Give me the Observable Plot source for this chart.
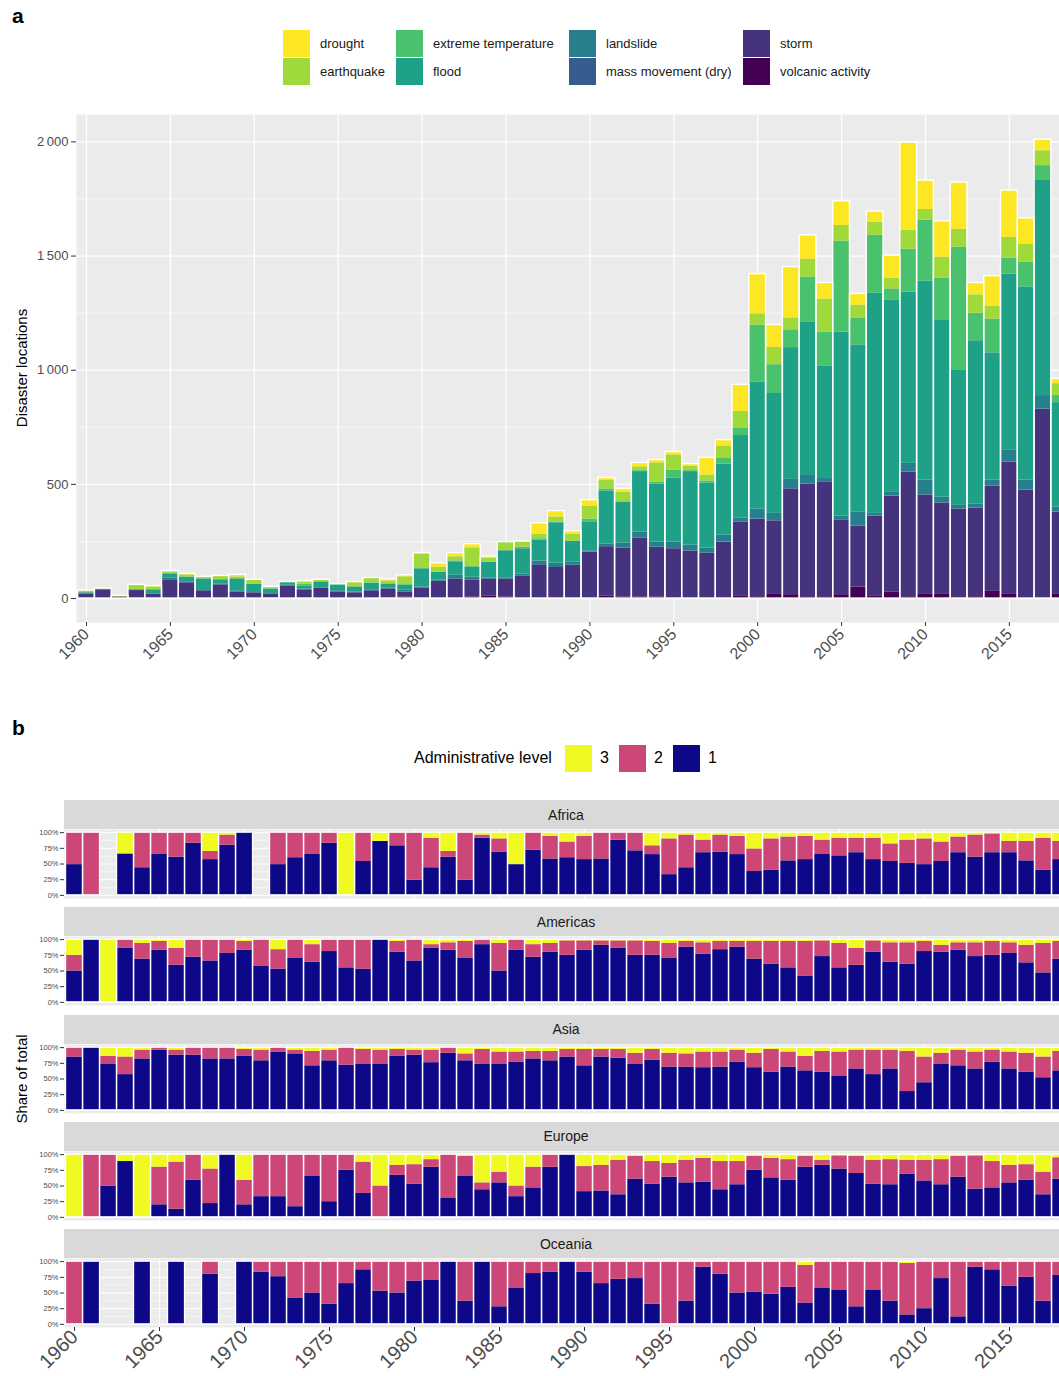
<!DOCTYPE html>
<html><head><meta charset="utf-8">
<script src="https://cdn.jsdelivr.net/npm/d3@7"></script>
<script src="https://cdn.jsdelivr.net/npm/@observablehq/plot@0.6"></script>
<style>
html,body{margin:0;padding:0;background:#fff;overflow:hidden;}
#root{position:relative;width:1059px;height:1376px;overflow:hidden;font-family:"Liberation Sans",Arial,sans-serif;color:#000;}
.abs{position:absolute;white-space:nowrap;}
svg{overflow:visible;}
</style></head><body><div id="root"></div>
<script>
// ---------- Panel a data (1960–2018) ----------
const years = d3.range(1960, 2019);
const typesLegend = ["drought","earthquake","extreme temperature","flood","landslide","mass movement (dry)","storm","volcanic activity"];
const typeColors = ["#FDE725","#9FDA3A","#4AC16D","#1FA187","#277F8E","#365C8D","#46337E","#440154"];
const typesBottomUp = ["volcanic activity","storm","mass movement (dry)","landslide","flood","extreme temperature","earthquake","drought"];

const volcanic = [3,0,0,3,3,0,3,0,3,3, 0,2,0,2,0,0,0,0,2,7,
  3,3,3,7,10,6,3,3,3,3, 3,10,7,7,7,3,3,3,3,12,
  8,21,17,8,8,17,50,12,29,8, 21,21,3,8,34,21,0,3,21];
const storm = [16,38,7,32,17,82,66,34,57,26, 25,18,55,36,44,29,25,34,40,21,
  42,73,83,73,76,80,96,145,133,143, 200,217,214,258,218,215,205,196,244,323,
  339,319,463,492,503,327,267,349,419,544, 432,397,389,388,457,576,474,825,357];
const massMovement = [0,0,0,0,0,0,0,0,0,0, 0,0,0,0,0,0,0,0,0,0,
  0,0,0,0,0,0,0,0,0,0, 1,0,1,1,0,1,1,0,1,1,
  2,1,2,1,1,2,2,1,1,2, 2,1,1,1,1,2,1,2,1];
const landslide = [4,3,0,3,0,7,2,1,3,5, 1,2,3,4,1,5,3,2,3,10,
  6,4,16,14,3,5,8,16,19,13, 5,11,21,25,22,28,25,22,30,16,
  43,32,40,38,14,15,59,11,16,38, 64,25,15,16,27,50,44,59,22];
const flood = [3,1,0,1,18,19,21,51,19,52, 37,20,11,13,28,26,23,31,19,22,
  79,35,59,45,70,118,111,92,177,92, 127,233,178,265,254,281,322,285,311,362,
  555,525,577,673,493,806,733,964,843,750, 872,777,594,716,557,772,846,945,457];
const extremeTemp = [0,0,0,0,1,3,3,0,1,1, 1,0,1,8,0,1,0,2,0,0,
  4,0,4,0,0,4,7,6,3,0, 12,9,3,4,9,35,4,9,27,31,
  251,126,78,196,148,398,118,254,48,188, 266,182,537,121,148,69,108,62,31];
const earthquake = [8,2,5,21,12,6,9,9,16,8, 18,9,3,8,9,2,18,21,13,35,
  60,22,18,83,18,34,22,20,22,31, 57,39,42,17,84,66,20,26,52,74,
  49,76,52,78,144,69,56,57,47,83, 47,92,78,80,57,92,78,65,52];
const drought = [1,0,0,0,4,4,4,0,0,9, 0,0,0,6,0,0,4,0,8,7,
  6,18,16,16,7,0,4,48,26,13, 26,9,14,17,13,13,9,75,26,117,
  174,98,223,105,71,106,49,47,99,384, 127,157,205,52,131,205,114,49,21];

const yTicksA = [0,500,1000,1500,2000];
const yMinorA = [250,750,1250,1750];
const xTicks = [1960,1965,1970,1975,1980,1985,1990,1995,2000,2005,2010,2015];

// ---------- Panel b data (share %, 1960–2018), null = no data ----------
const levels = ["3","2","1"];
const levelColors = ["#F0F921","#CC4678","#0D0887"];
const regions = ["Africa","Americas","Asia","Europe","Oceania"];

const africaL1 = [49,0,null,66,44,66,61,83,57,80, 100,null,49,60,66,83,0,54,86,79,
  24,44,61,24,91,69,49,72,58,60, 57,58,88,71,65,33,44,68,69,65,
  38,40,55,57,66,63,68,57,54,51, 49,54,68,61,68,68,55,40,57];
const africaL2 = [51,100,null,0,56,34,39,17,13,16, 0,null,51,40,34,17,0,46,0,21,
  76,47,9,76,5,21,0,28,36,25, 37,42,12,29,14,57,52,20,27,29,
  36,50,38,37,22,28,23,34,28,37, 41,31,25,35,30,18,31,51,29];
const africaL3 = [0,0,null,34,0,0,0,0,30,4, 0,null,0,0,0,0,100,0,14,0,
  0,9,30,0,4,10,51,0,6,15, 6,0,0,0,21,10,4,12,4,6,
  26,10,7,6,12,9,9,9,18,12, 10,15,7,4,2,14,14,9,14];

const americasL1 = [50,100,0,86,69,83,59,72,66,78, 83,58,53,70,64,81,55,53,100,80,
  66,86,83,70,92,50,83,72,80,75, 83,91,86,75,75,70,88,77,84,88,
  69,61,55,42,73,55,59,80,64,61, 81,80,83,73,75,78,63,47,69];
const americasL2 = [25,0,0,14,25,14,27,28,34,22, 14,42,31,30,28,19,45,47,0,17,
  34,6,12,27,8,44,17,20,14,23, 15,7,12,23,22,24,9,18,13,9,
  28,36,42,55,25,39,27,18,31,34, 16,11,12,22,22,17,28,47,28];
const americasL3 = [25,0,100,0,6,3,14,0,0,0, 3,0,16,0,8,0,0,0,0,3,
  0,8,5,3,0,6,0,8,6,2, 2,2,2,2,3,6,3,5,3,3,
  3,3,3,3,2,6,14,2,5,5, 3,9,5,5,3,5,9,6,3];

const asiaL1 = [85,100,74,57,82,96,88,88,82,82, 86,79,93,90,71,79,72,74,74,86,
  88,76,91,79,74,74,77,82,79,85, 71,85,83,74,80,69,69,68,69,77,
  68,61,69,63,61,54,66,57,66,30, 44,74,71,66,77,66,61,52,63];
const asiaL2 = [15,0,12,28,14,4,8,12,18,18, 11,17,7,6,23,17,28,23,22,11,
  8,20,9,11,23,19,16,12,15,12, 26,12,14,17,17,22,21,25,24,19,
  23,36,24,23,33,39,30,39,30,64, 41,17,25,27,19,27,30,33,31];
const asiaL3 = [0,0,14,15,4,0,4,0,0,0, 3,4,0,4,6,4,0,3,4,3,
  4,4,0,10,3,7,7,6,6,3, 3,3,3,9,3,9,10,7,7,4,
  9,3,7,14,6,7,4,4,4,6, 15,9,4,7,4,7,9,15,6];

const europeL1 = [0,0,50,89,0,20,13,59,22,100, 20,33,33,17,66,25,75,38,0,67,
  53,80,31,66,44,55,33,47,80,100, 41,42,36,61,53,64,55,56,44,52,
  75,63,59,80,83,77,70,53,52,69, 58,52,64,45,47,55,59,36,61];
const europeL2 = [0,100,50,0,0,60,75,41,55,0, 39,67,67,83,34,75,25,50,50,16,
  31,12,69,31,11,17,17,33,20,0, 40,41,55,36,36,22,36,38,45,37,
  22,31,33,17,8,21,27,38,40,22, 33,40,33,53,42,28,25,36,34];
const europeL3 = [100,0,0,11,100,20,12,0,23,0, 41,0,0,0,0,0,0,12,50,17,
  16,8,0,3,45,28,50,20,0,0, 19,17,9,3,11,14,9,6,11,11,
  3,6,8,3,9,2,3,9,8,9, 9,8,3,2,11,17,16,28,5];

const oceaniaL1 = [0,100,null,null,100,null,100,null,80,null, 100,83,76,42,50,32,65,87,53,50,
  69,70,100,37,100,28,58,81,83,100, 83,65,72,73,32,0,37,91,80,50,
  51,48,59,34,58,54,28,54,37,15, 25,73,12,91,87,61,75,37,78];
const oceaniaL2 = [100,0,null,null,0,null,0,null,20,null, 0,17,24,58,50,68,35,13,47,50,
  31,30,0,63,0,72,42,19,17,0, 17,35,28,27,68,100,63,9,20,50,
  49,52,41,60,42,46,72,46,63,82, 75,27,88,9,13,39,25,63,22];
const oceaniaL3 = [0,0,null,null,0,null,0,null,0,null, 0,0,0,0,0,0,0,0,0,0,
  0,0,0,0,0,0,0,0,0,0, 0,0,0,0,0,0,0,0,0,0,
  0,0,0,6,0,0,0,0,0,3, 0,0,0,0,0,0,0,0,0];

const yTicksB = [0,25,50,75,100];
const yMinorB = [12.5,37.5,62.5,87.5];

// ---------- helpers ----------
const root = document.getElementById("root");
function addText(txt, css) {
  const d = document.createElement("div");
  d.className = "abs";
  d.textContent = txt;
  Object.assign(d.style, css);
  root.appendChild(d);
  return d;
}
function addBox(css) {
  const d = document.createElement("div");
  d.className = "abs";
  Object.assign(d.style, css);
  root.appendChild(d);
  return d;
}
function place(node, left, top) {
  const w = document.createElement("div");
  w.className = "abs";
  w.style.left = left + "px"; w.style.top = top + "px";
  w.appendChild(node);
  root.appendChild(w);
}
const fontFam = '"Liberation Sans", Arial, sans-serif';

// ---------- Panel a ----------
addText("a", {left:"12px", top:"4px", fontSize:"21px", fontWeight:"bold"});
const legCols = [283, 396, 569, 743];
const legRows = [30, 58];
typesLegend.forEach((t, i) => {
  const cx = legCols[Math.floor(i / 2)], ry = legRows[i % 2];
  addBox({left: cx + "px", top: ry + "px", width: "27px", height: "27px", background: typeColors[i]});
  addText(t, {left: (cx + 37) + "px", top: (ry + 5) + "px", fontSize: "13px", lineHeight: "17px", color: "#1a1a1a"});
});
addText("Disaster locations", {left:"21px", top:"368px", fontSize:"15px", transform:"translate(-50%,-50%) rotate(-90deg)", color:"#000"});

const rowsA = years.map((y, i) => ({
  year: y,
  "volcanic activity": volcanic[i], "storm": storm[i], "mass movement (dry)": massMovement[i],
  "landslide": landslide[i], "flood": flood[i], "extreme temperature": extremeTemp[i],
  "earthquake": earthquake[i], "drought": drought[i]
}));
const stackA = [];
d3.stack().keys(typesBottomUp)(rowsA).forEach(s => {
  s.forEach(p => { if (p[1] > p[0]) stackA.push({type: s.key, year: p.data.year, y1: p[0], y2: p[1]}); });
});
const totalsA = rowsA.map(r => ({year: r.year, total: d3.sum(typesBottomUp, k => r[k])}));

const fmtA = d => d === 0 ? "0" : d3.format(",")(d).replace(",", "\u2009");

const plotA = Plot.plot({
  width: 1059, height: 580,
  marginLeft: 76, marginRight: 0, marginTop: 14, marginBottom: 58,
  x: {domain: [1959.404, 2017.986], range: [76, 1059]},
  y: {domain: [-104.9, 2120], range: [522, 14]},
  color: {domain: typesLegend, range: typeColors},
  style: {fontFamily: fontFam, color: "#4d4d4d", background: "transparent"},
  marks: [
    Plot.frame({fill: "#ebebeb", stroke: null}),
    Plot.ruleY(yMinorA, {stroke: "#fff", strokeWidth: 0.6}),
    Plot.ruleY(yTicksA, {stroke: "#fff", strokeWidth: 1.2}),
    Plot.ruleX(xTicks, {stroke: "#fff", strokeWidth: 1.2}),
    Plot.rect(stackA, {x1: d => d.year - 0.5, x2: d => d.year + 0.5, y1: "y1", y2: "y2", fill: "type"}),
    Plot.rect(totalsA, {x1: d => d.year - 0.5, x2: d => d.year + 0.5, y1: 0, y2: "total", fill: "none", stroke: "#fff", strokeWidth: 1.4}),
    Plot.axisY({ticks: yTicksA, tickFormat: fmtA, fontSize: 13, tickSize: 5, tickPadding: 3, label: null, stroke: "#333"}),
    Plot.axisX({ticks: xTicks, tickFormat: d => String(d), tickRotate: -45, fontSize: 16, tickSize: 4, tickPadding: 5, label: null, stroke: "#333"})
  ]
});
place(plotA, 0, 100);

// ---------- Panel b ----------
addText("b", {left:"12px", top:"716px", fontSize:"21px", fontWeight:"bold"});
addText("Administrative level", {left:"414px", top:"748px", fontSize:"16px", lineHeight:"20px", color:"#000"});
const legBx = [565, 619, 673];
levels.forEach((lv, i) => {
  addBox({left: legBx[i] + "px", top: "745px", width: "27px", height: "27px", background: levelColors[i]});
  addText(lv, {left: (legBx[i] + 35) + "px", top: "748px", fontSize: "16px", lineHeight: "20px", color: "#000"});
});
addText("Share of total", {left:"21px", top:"1079px", fontSize:"15px", transform:"translate(-50%,-50%) rotate(-90deg)", color:"#000"});

const regionData = {
  Africa: [africaL1, africaL2, africaL3],
  Americas: [americasL1, americasL2, americasL3],
  Asia: [asiaL1, asiaL2, asiaL3],
  Europe: [europeL1, europeL2, europeL3],
  Oceania: [oceaniaL1, oceaniaL2, oceaniaL3]
};

regions.forEach((reg, ri) => {
  const stripTop = 800 + ri * 107.25;
  const panelTop = stripTop + 29;
  const panelH = 69;
  const isLast = ri === regions.length - 1;
  addBox({left: "64px", top: stripTop + "px", width: "1004px", height: "29px", background: "#d9d9d9"});
  addText(reg, {left: "566px", top: (stripTop + 14.5) + "px", fontSize: "14px", color: "#1a1a1a", transform: "translate(-50%,-50%)"});

  const [L1, L2, L3] = regionData[reg];
  const segs = [], outlines = [];
  years.forEach((y, i) => {
    if (L1[i] == null) return;
    const a = L1[i], b = L2[i], c = L3[i];
    if (a > 0) segs.push({year: y, level: "1", y1: 0, y2: a});
    if (b > 0) segs.push({year: y, level: "2", y1: a, y2: a + b});
    if (c > 0) segs.push({year: y, level: "3", y1: a + b, y2: a + b + c});
    outlines.push({year: y, total: a + b + c});
  });

  const marks = [
    Plot.frame({fill: "#ebebeb", stroke: null}),
    Plot.ruleY(yMinorB, {stroke: "#fff", strokeWidth: 0.5}),
    Plot.ruleY(yTicksB, {stroke: "#fff", strokeWidth: 1}),
    Plot.ruleX(xTicks, {stroke: "#fff", strokeWidth: 1}),
    Plot.rect(segs, {x1: d => d.year - 0.5, x2: d => d.year + 0.5, y1: "y1", y2: "y2", fill: "level"}),
    Plot.rect(outlines, {x1: d => d.year - 0.5, x2: d => d.year + 0.5, y1: 0, y2: "total", fill: "none", stroke: "#fff", strokeWidth: 1.3}),
    Plot.axisY({ticks: yTicksB, tickFormat: d => d + "%", fontSize: 7.5, tickSize: 4, tickPadding: 2, label: null, stroke: "#333"})
  ];
  if (isLast) {
    marks.push(Plot.axisX({ticks: xTicks, tickFormat: d => String(d), tickRotate: -45, fontSize: 20, tickSize: 4, tickPadding: 2, label: null, stroke: "#333"}));
  }
  const p = Plot.plot({
    width: 1059, height: panelH + (isLast ? 50 : 0),
    marginLeft: 64, marginRight: 0, marginTop: 0, marginBottom: isLast ? 50 : 0,
    x: {domain: [1959.41, 2017.94], range: [64, 1059], axis: isLast ? undefined : null},
    y: {domain: [-5, 105], range: [panelH, 0]},
    color: {domain: levels, range: levelColors},
    style: {fontFamily: fontFam, color: "#4d4d4d", background: "transparent"},
    marks
  });
  place(p, 0, panelTop);
});
</script></body></html>
